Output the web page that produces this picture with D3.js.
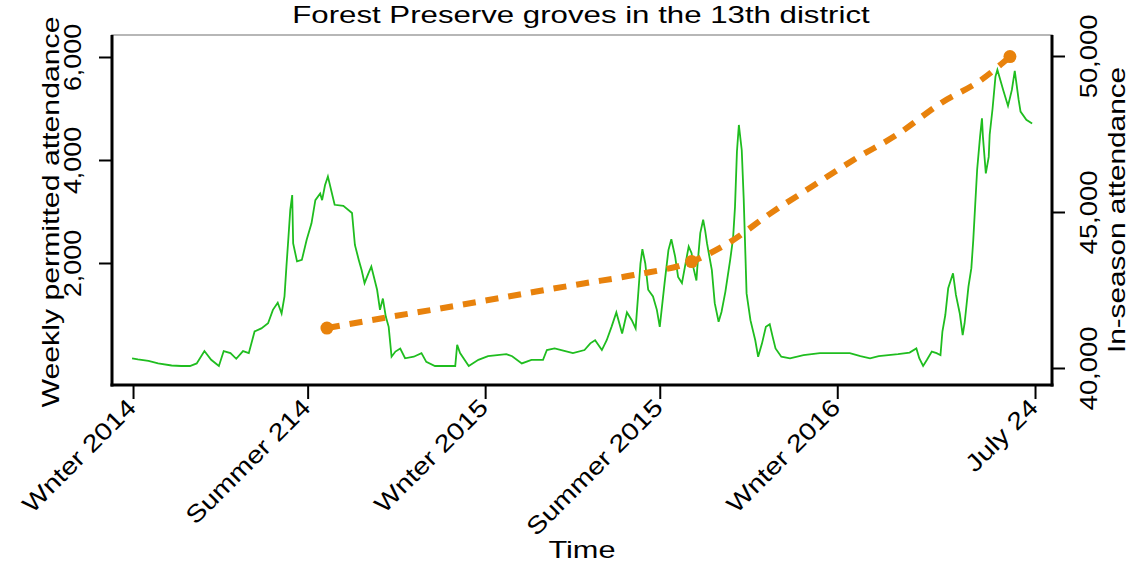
<!DOCTYPE html>
<html>
<head>
<meta charset="utf-8">
<script src="https://cdn.jsdelivr.net/npm/d3@7"></script>
<style>
  html, body { margin: 0; padding: 0; background: #fff; }
  svg { display: block; }
  text { font-family: "Liberation Sans", Arial, sans-serif; fill: #000; }
</style>
</head>
<body>
<svg id="chart" width="1130" height="565"></svg>
<script>
// ---- data (days since 1 Jan 2014, value) ----
const title = "Forest Preserve groves in the 13th district";
const leftTitle = "Weekly permitted attendance";
const rightTitle = "In-season attendance";
const xTitle = "Time";

const xTickDates = ["2014-01-01", "2014-07-01", "2015-01-01", "2015-07-01", "2016-01-01", "2016-07-24"];
const xTickLabels = ["Wnter 2014", "Summer 214", "Wnter 2015", "Summer 2015", "Wnter 2016", "July 24"];
const leftTicks = [2000, 4000, 6000];
const rightTicks = [40000, 45000, 50000];

const weekly = [
  [-1,150],[5,130],[16,100],[26,50],[40,10],[50,0],[59,0],[66,50],[74,290],[81,120],[89,0],[94,290],
  [101,250],[107,140],[114,290],[120,250],[126,670],[133,730],[140,830],[145,1090],[150,1230],[154,1020],
  [157,1350],[159,1930],[161,2470],[163,3030],[165,3320],[166,2380],[170,2030],[175,2060],[180,2450],
  [185,2770],[189,3220],[194,3350],[196,3220],[199,3510],[202,3680],[209,3130],[218,3110],[227,2970],
  [230,2350],[234,2060],[237,1860],[240,1610],[244,1800],[247,1930],[253,1480],[256,1090],[259,1310],
  [262,960],[265,760],[268,180],[272,280],[277,340],[282,150],[291,180],[299,250],[304,80],[313,0],
  [334,0],[336,410],[339,250],[348,0],[358,120],[368,190],[387,230],[393,190],[403,50],[413,120],
  [425,120],[429,310],[437,340],[446,300],[456,250],[468,310],[474,440],[479,500],[486,310],[491,500],
  [496,760],[501,1040],[507,630],[512,1040],[517,890],[521,730],[524,1480],[526,1990],[528,2270],
  [531,1990],[534,1480],[539,1350],[543,1090],[546,760],[551,1610],[555,2250],[558,2460],[562,2120],
  [565,1730],[569,1610],[574,2120],[576,2320],[579,2190],[581,1900],[584,1660],[585,1930],[588,2580],
  [591,2840],[593,2640],[595,2380],[600,1860],[603,1220],[607,860],[610,1050],[614,1440],[619,2060],
  [622,2480],[624,3090],[626,4160],[628,4680],[631,4190],[633,3260],[636,1410],[640,890],[645,500],
  [648,180],[652,440],[656,760],[660,810],[663,570],[666,340],[672,180],[681,150],[695,210],[712,250],
  [743,250],[754,190],[764,150],[773,190],[793,230],[805,260],[812,340],[815,150],[819,0],[823,120],
  [828,280],[833,250],[837,210],[839,670],[842,990],[845,1510],[850,1800],[853,1380],[857,1020],
  [860,600],[862,830],[866,1540],[869,1900],[871,2450],[873,3130],[875,3810],[878,4450],[880,4810],
  [881,4450],[884,3740],[887,4060],[888,4490],[891,5000],[894,5620],[896,5750],[898,5620],[902,5360],
  [907,5050],[911,5360],[914,5730],[918,5170],[920,4940],[926,4780],[932,4710]
];

const inSeason = [
  [201,41280],[263,41620],[313,41880],[365,42160],[418,42450],[467,42710],[519,42980],[579,43410],
  [617,44000],[660,44940],[705,45840],[748,46690],[793,47500],[837,48480],[880,49250],[909,49980]
];
const inSeasonMarkers = [201, 579, 909];

// ---- layout ----
const DAY = 864e5;
const base = Date.UTC(2014, 0, 1);
const toDate = d => new Date(base + d * DAY);
const plot = { left: 112, right: 1052, top: 35, bottom: 385 };

const svg = d3.select("#chart");

const x = d3.scaleUtc()
  .domain([toDate(-21.8), toDate(952.6)])
  .range([plot.left, plot.right]);
const yL = d3.scaleLinear().domain([-369, 6427]).range([plot.bottom, plot.top]);
const yR = d3.scaleLinear().domain([39455, 50673]).range([plot.bottom, plot.top]);

// stretch text along its reading direction
function stretch(sel, factor) {
  sel.each(function () {
    const len = this.getComputedTextLength();
    d3.select(this).attr("textLength", len * factor).attr("lengthAdjust", "spacingAndGlyphs");
  });
}

// plot region frame (light)
svg.append("rect")
  .attr("x", plot.left).attr("y", plot.top)
  .attr("width", plot.right - plot.left).attr("height", plot.bottom - plot.top)
  .attr("fill", "none").attr("stroke", "#a0a0a0").attr("stroke-width", 1.5);

// green line
const lineL = d3.line().x(d => x(toDate(d[0]))).y(d => yL(d[1]));
svg.append("path")
  .datum(weekly)
  .attr("d", lineL)
  .attr("fill", "none")
  .attr("stroke", "#1fbd1f")
  .attr("stroke-width", 1.8);

// orange dashed line
const lineR = d3.line().x(d => x(toDate(d[0]))).y(d => yR(d[1])).curve(d3.curveMonotoneX);
svg.append("path")
  .datum(inSeason)
  .attr("d", lineR)
  .attr("fill", "none")
  .attr("stroke", "#e8820c")
  .attr("stroke-width", 6)
  .attr("stroke-dasharray", "13 10");

svg.selectAll("circle.mk")
  .data(inSeason.filter(d => inSeasonMarkers.includes(d[0])))
  .enter().append("circle")
  .attr("class", "mk")
  .attr("cx", d => x(toDate(d[0])))
  .attr("cy", d => yR(d[1]))
  .attr("r", 6.5)
  .attr("fill", "#e8820c");

// axes
const fontSize = 24;
function styleAxis(g) {
  g.select(".domain").remove();
  g.selectAll(".tick line").attr("stroke", "#000").attr("stroke-width", 2);
  g.selectAll("text").attr("font-size", fontSize).attr("font-family", "Liberation Sans, Arial, sans-serif").attr("fill", "#000");
}

// bottom axis
const gx = svg.append("g")
  .attr("transform", `translate(0,${plot.bottom})`)
  .call(d3.axisBottom(x)
    .tickValues(xTickDates.map(s => new Date(s + "T00:00:00Z")))
    .tickFormat((d, i) => xTickLabels[i])
    .tickSize(14).tickPadding(4));
styleAxis(gx);
gx.selectAll(".tick text")
  .attr("text-anchor", "end")
  .attr("y", 0)
  .attr("dy", "0")
  .attr("transform", "translate(4,24) rotate(-45)");
stretch(gx.selectAll(".tick text"), 1.2);

// left axis
const gl = svg.append("g")
  .attr("transform", `translate(${plot.left},0)`)
  .call(d3.axisLeft(yL).tickValues(leftTicks).tickFormat(d3.format(",")).tickSize(13).tickPadding(0));
styleAxis(gl);
gl.selectAll(".tick text")
  .attr("text-anchor", "middle")
  .attr("x", 0).attr("dy", 0)
  .attr("transform", "translate(-31,0) rotate(-90)");
stretch(gl.selectAll(".tick text"), 1.12);

// right axis
const gr = svg.append("g")
  .attr("transform", `translate(${plot.right},0)`)
  .call(d3.axisRight(yR).tickValues(rightTicks).tickFormat(d3.format(",")).tickSize(13).tickPadding(0));
styleAxis(gr);
gr.selectAll(".tick text")
  .attr("text-anchor", "middle")
  .attr("x", 0).attr("dy", 0)
  .attr("transform", "translate(45,0) rotate(-90)");
stretch(gr.selectAll(".tick text"), 1.14);

// axis lines (thick black)
svg.append("line").attr("x1", plot.left).attr("x2", plot.left).attr("y1", plot.top).attr("y2", plot.bottom + 1.5)
  .attr("stroke", "#000").attr("stroke-width", 3);
svg.append("line").attr("x1", plot.right).attr("x2", plot.right).attr("y1", plot.top).attr("y2", plot.bottom + 1.5)
  .attr("stroke", "#000").attr("stroke-width", 3);
svg.append("line").attr("x1", plot.left - 1.5).attr("x2", plot.right + 1.5).attr("y1", plot.bottom).attr("y2", plot.bottom)
  .attr("stroke", "#000").attr("stroke-width", 3);

// titles
svg.append("text")
  .attr("x", 581).attr("y", 23)
  .attr("text-anchor", "middle")
  .attr("font-size", fontSize)
  .text(title)
  .call(s => stretch(s, 1.3));

svg.append("text")
  .attr("transform", `translate(59,${(plot.top + plot.bottom) / 2 + 2}) rotate(-90)`)
  .attr("text-anchor", "middle")
  .attr("font-size", fontSize)
  .text(leftTitle)
  .call(s => stretch(s, 1.26));

svg.append("text")
  .attr("transform", `translate(1125,${(plot.top + plot.bottom) / 2}) rotate(-90)`)
  .attr("text-anchor", "middle")
  .attr("font-size", fontSize)
  .text(rightTitle)
  .call(s => stretch(s, 1.24));

svg.append("text")
  .attr("x", 582).attr("y", 558)
  .attr("text-anchor", "middle")
  .attr("font-size", fontSize)
  .text(xTitle)
  .call(s => stretch(s, 1.28));
</script>
</body>
</html>
